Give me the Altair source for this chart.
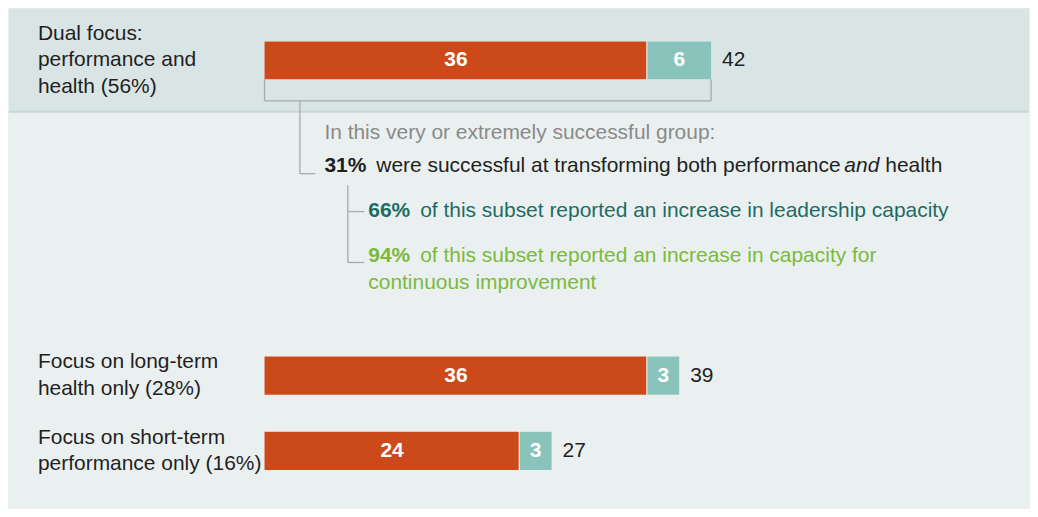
import altair as alt
import pandas as pd

# ---------------- data ----------------
group_keys = ["dual", "long", "short"]
group_labels = [
    "Dual focus:|performance and|health (56%)",
    "Focus on long-term|health only (28%)",
    "Focus on short-term|performance only (16%)",
]
very_successful = [36, 36, 24]
extremely_successful = [6, 3, 3]
segment_names = ["very", "extremely"]

intro_text = "In this very or extremely successful group:"
line31_bold = "31%"
line31_a = "were successful at transforming both performance"
line31_italic = "and"
line31_b = "health"
line66_bold = "66%"
line66_rest = "of this subset reported an increase in leadership capacity"
line94_bold = "94%"
line94_rest = "of this subset reported an increase in capacity for"
line94_cont = "continuous improvement"

# ---------------- styling ----------------
FONT = "Liberation Sans"
FS = 21
LH = 26.5
ORANGE = "#cc4a1a"
TEAL = "#89c3bb"
BAND = "#d9e5e5"
PANEL = "#eaf0f0"
SEP = "#c6d7d7"
GRAY = "#aaaaaa"
DARK = "#1f1f1f"
GREYTXT = "#8a8a8a"
DTEAL = "#1d6b65"
GREEN = "#7bba3d"

W = 1022
PXU = 10.655
X0 = 256
xscale = alt.Scale(domain=[-X0 / PXU, (W - X0) / PXU], nice=False, zero=False)
cscale = alt.Scale(domain=segment_names, range=[ORANGE, TEAL])

seg_rows, tot_rows = [], []
for k, lab, v, e in zip(group_keys, group_labels, very_successful, extremely_successful):
    seg_rows.append({"group": k, "segment": "very", "order": 0, "value": v})
    seg_rows.append({"group": k, "segment": "extremely", "order": 1, "value": e})
    tot_rows.append({"group": k, "label": lab, "total": v + e})
seg_df = pd.DataFrame(seg_rows)
tot_df = pd.DataFrame(tot_rows)


def bar_layers(keys, yscale):
    sdf = seg_df[seg_df.group.isin(keys)]
    tdf = tot_df[tot_df.group.isin(keys)]
    n_lines = max(lab.count("|") + 1 for lab in tdf.label)
    y = alt.Y("group:N", scale=yscale, axis=None)
    base = alt.Chart(sdf).transform_stack(
        stack="value", groupby=["group"], sort=[alt.SortField("order", "ascending")], as_=["x0", "x1"]
    ).transform_calculate(mid="(datum.x0 + datum.x1) / 2")
    under = alt.Chart(tdf).transform_calculate(zero="0").mark_bar(color="#ffffff").encode(
        x=alt.X("zero:Q", scale=xscale, axis=None), x2=alt.X2("total:Q"), y=y
    )
    bars_very = base.transform_filter("datum.segment == 'very'").mark_bar(x2Offset=-1).encode(
        x=alt.X("x0:Q", scale=xscale, axis=None), x2="x1:Q", y=y,
        color=alt.Color("segment:N", scale=cscale, legend=None),
    )
    bars_ext = base.transform_filter("datum.segment == 'extremely'").mark_bar().encode(
        x=alt.X("x0:Q", scale=xscale, axis=None), x2="x1:Q", y=y,
        color=alt.Color("segment:N", scale=cscale, legend=None),
    )
    vals = base.mark_text(color="white", fontWeight="bold", font=FONT, fontSize=FS, baseline="middle").encode(
        x=alt.X("mid:Q", scale=xscale, axis=None), y=y, text="value:Q"
    )
    tots = alt.Chart(tdf).mark_text(align="left", dx=11, color=DARK, font=FONT, fontSize=FS, baseline="middle").encode(
        x=alt.X("total:Q", scale=xscale, axis=None), y=y, text="total:Q"
    )
    labels = alt.Chart(tdf).mark_text(
        align="left", baseline="middle", lineBreak="|", lineHeight=LH, color=DARK, font=FONT, fontSize=FS,
        dy=-(n_lines - 1) * LH / 2,
    ).encode(x=alt.value(29), y=y, text="label:N")
    return [under, bars_very, bars_ext, vals, tots, labels], tdf


one = pd.DataFrame({"k": [0]})


def rule(x, y, x2=None, y2=None, color=GRAY, sw=1.3):
    enc = {"x": alt.value(x), "y": alt.value(y)}
    if x2 is not None:
        enc["x2"] = alt.value(x2)
    if y2 is not None:
        enc["y2"] = alt.value(y2)
    return alt.Chart(one).mark_rule(color=color, strokeWidth=sw).encode(**enc)


def txt(s, x, y, color=DARK, weight="normal", style="normal"):
    return alt.Chart(one).mark_text(
        align="left", baseline="middle", font=FONT, fontSize=FS, color=color,
        fontWeight=weight, fontStyle=style
    ).encode(x=alt.value(x), y=alt.value(y), text=alt.value(s))


# ---------------- top panel ----------------
top_bars, top_tdf = bar_layers(["dual"], alt.Scale(domain=["dual"], range=[33, 71], paddingInner=0, paddingOuter=0))
band = alt.Chart(one).mark_rect(color=BAND).encode(
    x=alt.value(0), x2=alt.value(W), y=alt.value(0), y2=alt.value(103)
)
sep = rule(0, 103.5, x2=W, color=SEP, sw=2)

brk = alt.Chart(top_tdf).transform_calculate(zero="0")
bracket_l = brk.mark_rule(color=GRAY, strokeWidth=1.3).encode(
    x=alt.X("zero:Q", scale=xscale, axis=None), y=alt.value(71), y2=alt.value(92.5)
)
bracket_r = brk.mark_rule(color=GRAY, strokeWidth=1.3).encode(
    x=alt.X("total:Q", scale=xscale, axis=None), y=alt.value(71), y2=alt.value(92.5)
)
bracket_b = brk.mark_rule(color=GRAY, strokeWidth=1.3).encode(
    x=alt.X("zero:Q", scale=xscale, axis=None), x2=alt.X2("total:Q"), y=alt.value(92.5)
)

annot = [
    rule(291.5, 92.5, y2=165.5),
    rule(291.5, 165.5, x2=307),
    rule(339.5, 177, y2=254.5),
    rule(339.5, 203.5, x2=356),
    rule(339.5, 254.5, x2=356),
    txt(intro_text, 316, 125, color=GREYTXT),
    txt(line31_bold, 316, 158, weight="bold"),
    txt(line31_a, 368, 158),
    txt(line31_italic, 837, 158, style="italic"),
    txt(line31_b, 878, 158),
    txt(line66_bold, 360, 203, color=DTEAL, weight="bold"),
    txt(line66_rest, 412, 203, color=DTEAL),
    txt(line94_bold, 360, 248, color=GREEN, weight="bold"),
    txt(line94_rest, 412, 248, color=GREEN),
    txt(line94_cont, 360, 275, color=GREEN),
]

top = alt.layer(band, sep, *top_bars, bracket_l, bracket_r, bracket_b, *annot).properties(width=W, height=323)

# ---------------- bottom panel ----------------
bot_bars, _ = bar_layers(
    ["long", "short"],
    alt.Scale(domain=["long", "short"], range=[25.7, 139.3], paddingInner=0.491, paddingOuter=0),
)
bottom = alt.layer(*bot_bars).properties(width=W, height=178)

chart = alt.vconcat(top, bottom, spacing=0).properties(padding=0).configure(
    background=PANEL
).configure_view(fill=PANEL, stroke=None)

chart.save("out.html", embed_options={"renderer": "svg", "actions": False})
